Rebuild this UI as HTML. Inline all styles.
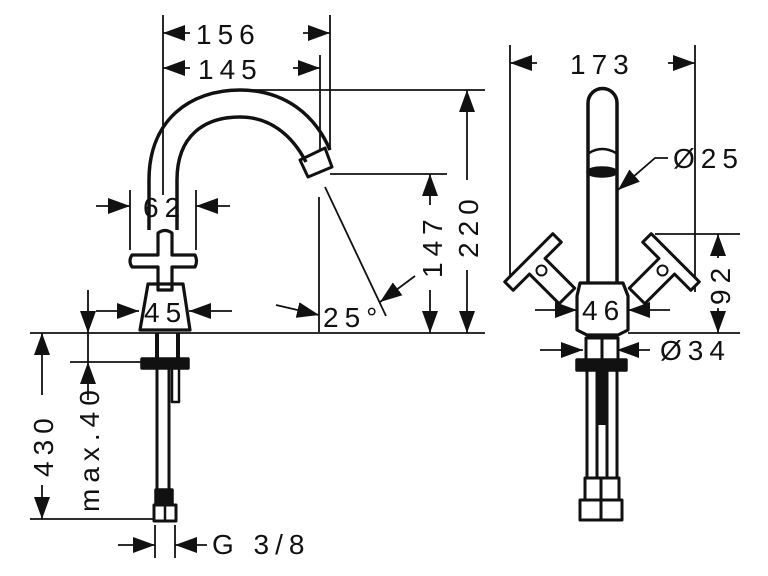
<!DOCTYPE html>
<html><head><meta charset="utf-8"><style>
html,body{margin:0;padding:0;background:#fff;width:768px;height:576px;overflow:hidden}
svg{display:block}
text{font-family:"Liberation Sans",sans-serif;font-size:28px;fill:#111;letter-spacing:6px}
</style></head><body>
<svg width="768" height="576" viewBox="0 0 768 576" xmlns="http://www.w3.org/2000/svg">
<defs>
<marker id="a" viewBox="0 0 22 16" refX="22" refY="8" markerWidth="22" markerHeight="16" markerUnits="userSpaceOnUse" orient="auto"><path d="M0,0 L22,8 L0,16Z" fill="#111"/></marker>
</defs>
<g stroke="#111" stroke-width="1.8" fill="none">
<line x1="163" y1="15" x2="163" y2="195"/>
<line x1="330" y1="15" x2="330" y2="150"/>
<line x1="320" y1="55" x2="320" y2="150"/>
<line x1="240" y1="90" x2="485" y2="90"/>
<line x1="330" y1="174" x2="447" y2="174"/>
<line x1="319" y1="197" x2="319" y2="332"/>
<line x1="325" y1="187" x2="386" y2="316"/>
<line x1="30" y1="333" x2="485" y2="333"/>
<line x1="70" y1="362" x2="150" y2="362"/>
<line x1="30" y1="519" x2="155" y2="519"/>
<line x1="155" y1="525" x2="155" y2="558"/>
<line x1="175" y1="525" x2="175" y2="558"/>
<line x1="130" y1="190" x2="130" y2="250"/>
<line x1="196" y1="190" x2="196" y2="250"/>
<line x1="190" y1="33" x2="163" y2="33" marker-end="url(#a)"/>
<line x1="303" y1="33" x2="330" y2="33" marker-end="url(#a)"/>
<line x1="190" y1="68" x2="163" y2="68" marker-end="url(#a)"/>
<line x1="293" y1="68" x2="320" y2="68" marker-end="url(#a)"/>
<line x1="96" y1="206" x2="130" y2="206" marker-end="url(#a)"/>
<line x1="230" y1="206" x2="196" y2="206" marker-end="url(#a)"/>
<line x1="96" y1="311" x2="139" y2="311" marker-end="url(#a)"/>
<line x1="232" y1="311" x2="189" y2="311" marker-end="url(#a)"/>
<line x1="276" y1="305" x2="319" y2="315" marker-end="url(#a)"/>
<line x1="415" y1="276" x2="380" y2="302" marker-end="url(#a)"/>
<line x1="467" y1="180" x2="467" y2="90" marker-end="url(#a)"/>
<line x1="467" y1="270" x2="467" y2="333" marker-end="url(#a)"/>
<line x1="430" y1="205" x2="430" y2="174" marker-end="url(#a)"/>
<line x1="430" y1="290" x2="430" y2="333" marker-end="url(#a)"/>
<line x1="42" y1="395" x2="42" y2="333" marker-end="url(#a)"/>
<line x1="42" y1="485" x2="42" y2="519" marker-end="url(#a)"/>
<line x1="88" y1="290" x2="88" y2="333" marker-end="url(#a)"/>
<line x1="88" y1="333" x2="88" y2="362"/>
<line x1="88" y1="400" x2="88" y2="362" marker-end="url(#a)"/>
<line x1="118" y1="545" x2="155" y2="545" marker-end="url(#a)"/>
<line x1="207" y1="545" x2="175" y2="545" marker-end="url(#a)"/>
<line x1="510" y1="45" x2="510" y2="285"/>
<line x1="695" y1="45" x2="695" y2="292"/>
<line x1="537" y1="63" x2="510" y2="63" marker-end="url(#a)"/>
<line x1="668" y1="63" x2="695" y2="63" marker-end="url(#a)"/>
<line x1="655" y1="234" x2="740" y2="234"/>
<line x1="628" y1="333" x2="740" y2="333"/>
<line x1="718" y1="258" x2="718" y2="234" marker-end="url(#a)"/>
<line x1="718" y1="308" x2="718" y2="333" marker-end="url(#a)"/>
<polyline points="668,158 655,158 618,190" marker-end="url(#a)"/>
<line x1="535" y1="310" x2="577" y2="310" marker-end="url(#a)"/>
<line x1="670" y1="310" x2="628" y2="310" marker-end="url(#a)"/>
<line x1="540" y1="350" x2="583" y2="350" marker-end="url(#a)"/>
<line x1="650" y1="350" x2="617" y2="350" marker-end="url(#a)"/>
</g>
<g stroke="#111" stroke-width="3.5" fill="none" stroke-linejoin="round">
<path d="M149,230 L149,180 C149,120 190,90 240,90 C285,90 315,115 330,150"/>
<path d="M177,230 L177,180 C177,135 205,117 240,117 C270,117 292,135 306,162"/>
<path d="M300,160 L325,148 L332,167 L308,177 Z" stroke-width="3"/>
<path d="M158,240 L158,233 Q165,228 172,233 L172,255 L195,255 Q198,261 195,267 L172,267 L172,290 L158,290 L158,267 L132,267 Q128,261 132,255 L158,255 Z" stroke-width="3.2" fill="#fff"/>
<path d="M148,284 L183,284 L190,330 L140,330 Z" stroke-width="3.2"/>
<path d="M157,333 L157,358 M178,333 L178,358" stroke-width="4"/>
<rect x="142" y="359" width="46" height="9" fill="#111"/>
<rect x="157" y="368" width="12" height="122" stroke-width="3"/>
<path d="M172,368 L172,402 L179,402 L179,368" stroke-width="2.5"/>
<rect x="156" y="490" width="16" height="14" fill="#111"/>
<rect x="154" y="505" width="22" height="16" stroke-width="3" fill="#fff"/>
<line x1="165" y1="505" x2="165" y2="521" stroke-width="2.5"/>
</g>
<g stroke="#111" stroke-width="3.5" fill="none" stroke-linejoin="round">
<path d="M588,283 L588,103 A14.5,14.5 0 0 1 617,103 L617,283"/>
<path d="M589,153 Q602,145 616,153" stroke-width="2.5"/>
<ellipse cx="602" cy="172" rx="14" ry="4" fill="#111"/>
<path d="M580,283 L623,283 L628,296 L628,330 L618,335 L587,335 L577,330 L577,296 Z" stroke-width="3.2" fill="#fff"/>
<g transform="translate(533,262) rotate(-45)">
<path d="M-34,-6 L34,-6 L34,6 L11,6 L11,48 L-11,48 L-11,6 L-34,6 Z" stroke-width="3" fill="#fff"/>
<circle cx="0" cy="12" r="5" stroke-width="2"/>
</g>
<g transform="translate(671,262) rotate(45)">
<path d="M-34,-6 L34,-6 L34,6 L11,6 L11,48 L-11,48 L-11,6 L-34,6 Z" stroke-width="3" fill="#fff"/>
<circle cx="0" cy="12" r="5" stroke-width="2"/>
</g>
<rect x="586" y="338" width="32" height="22" stroke-width="3"/>
<line x1="602" y1="338" x2="602" y2="360" stroke-width="3"/>
<rect x="577" y="360" width="49" height="10" fill="#111"/>
<path d="M587,370 L587,478 M597,370 L597,478 M607,370 L607,478 M617,370 L617,478" stroke-width="3"/>
<rect x="597" y="370" width="10" height="55" fill="#111" stroke="none"/>
<rect x="585" y="478" width="34" height="22" stroke-width="3"/>
<rect x="580" y="500" width="42" height="20" stroke-width="3" fill="#fff"/>
<line x1="601" y1="478" x2="601" y2="520" stroke-width="3"/>
</g>
<text x="196" y="44">156</text>
<text x="198" y="79">145</text>
<text x="143" y="217">62</text>
<text x="144" y="322">45</text>
<text x="323" y="327">25°</text>
<text transform="translate(442,278) rotate(-90)">147</text>
<text transform="translate(478,258) rotate(-90)">220</text>
<text transform="translate(53,477) rotate(-90)">430</text>
<text transform="translate(99,512) rotate(-90)">max.40</text>
<text x="212" y="554">G 3/8</text>
<text x="570" y="74">173</text>
<text x="673" y="168">Ø25</text>
<text x="582" y="320">46</text>
<text x="660" y="360">Ø34</text>
<text transform="translate(730,305) rotate(-90)">92</text>
</svg>
</body></html>
